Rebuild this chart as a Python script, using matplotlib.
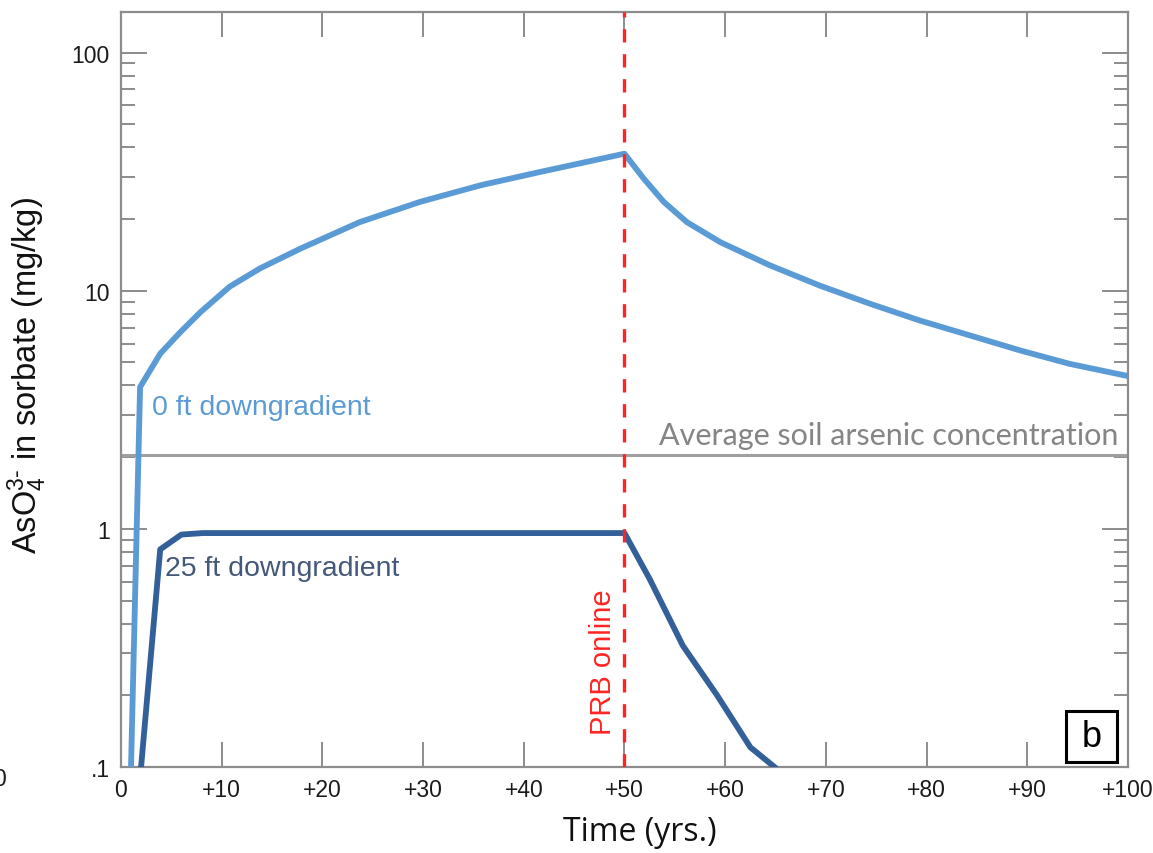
import matplotlib
matplotlib.use("Agg")
import matplotlib.pyplot as plt
from matplotlib.patches import Rectangle
from matplotlib.ticker import FixedLocator, LogLocator, NullFormatter

# ---- data -------------------------------------------------------------
years_0ft = [1.0, 1.9, 3.9, 5.9, 7.9, 10.8, 13.8, 17.8, 23.7, 29.7, 35.7, 41.6, 50.0,
             51.9, 53.9, 56.2, 59.5, 64.4, 69.4, 74.4, 79.3, 84.3, 89.3, 94.2, 100.0]
sorbed_0ft = [0.1, 3.94, 5.44, 6.70, 8.13, 10.4, 12.4, 15.0, 19.4, 23.6, 27.7, 31.5, 37.6,
              29.6, 23.6, 19.4, 16.0, 12.8, 10.5, 8.81, 7.50, 6.49, 5.61, 4.93, 4.38]

years_25ft = [2.0, 3.9, 6.0, 8.1, 20.0, 35.0, 50.0, 52.5, 55.8, 59.2, 62.5, 64.9]
sorbed_25ft = [0.1, 0.82, 0.946, 0.96, 0.96, 0.96, 0.96, 0.616, 0.323, 0.20, 0.121, 0.1]

avg_soil_arsenic = 2.05
prb_online_year = 50

x_ticks = [0, 10, 20, 30, 40, 50, 60, 70, 80, 90, 100]
x_tick_labels = ["0", "+10", "+20", "+30", "+40", "+50", "+60", "+70", "+80", "+90", "+100"]
y_ticks = [0.1, 1, 10, 100]
y_tick_labels = [".1", "1", "10", "100"]

# ---- styling ------------------------------------------------------------
LIGHT_BLUE = "#5B9BD5"
DARK_BLUE = "#34609A"
DARK_BLUE_TEXT = "#44587A"
AXIS_GRAY = "#8C8C8C"
ARIAL = ["Liberation Sans", "DejaVu Sans"]

plt.rcParams["mathtext.fontset"] = "custom"
plt.rcParams["mathtext.rm"] = "Liberation Sans"
plt.rcParams["mathtext.it"] = "Liberation Sans:italic"
plt.rcParams["mathtext.bf"] = "Liberation Sans:bold"

fig = plt.figure(figsize=(11.53, 8.54), dpi=100)
ax = fig.add_axes([0.1049, 0.1007, 0.8734, 0.8841])

ax.set_yscale("log")
ax.set_xlim(0, 100)
ax.set_ylim(0.1, 148)

ax.plot(years_0ft, sorbed_0ft, color=LIGHT_BLUE, lw=4.2, solid_joinstyle="round", zorder=4)
ax.plot(years_25ft, sorbed_25ft, color=DARK_BLUE, lw=4.2, solid_joinstyle="round", zorder=4)

ax.axhline(avg_soil_arsenic, color="#A0A0A0", lw=2.2, zorder=2)
ax.axvline(prb_online_year, color="#FF2424", lw=2.4, dashes=(4, 3.5), zorder=5)

# ---- annotations --------------------------------------------------------
ax.text(3.05, 3.04, "0 ft downgradient", color=LIGHT_BLUE, fontsize=20.5,
        family=ARIAL, va="baseline", ha="left")
ax.text(4.37, 0.641, "25 ft downgradient", color=DARK_BLUE_TEXT, fontsize=20.5,
        family=ARIAL, va="baseline", ha="left")
ax.text(99.0, 2.28, "Average soil arsenic concentration", color="#858585",
        fontsize=22, family=["Lato", "DejaVu Sans"], va="baseline", ha="right")
ax.text(47.9, 0.279, "PRB online", color="#FF2424", fontsize=21, family=ARIAL,
        rotation=90, va="center", ha="center")

ax.add_patch(Rectangle((0.9384, 0.0066), 0.0507, 0.0676, transform=ax.transAxes,
                       fill=False, edgecolor="black", lw=2.2, zorder=6))
ax.text(0.9638, 0.0404, "b", transform=ax.transAxes, fontsize=26, family=ARIAL,
        ha="center", va="center", zorder=7)

# ---- axes ---------------------------------------------------------------
for side in ax.spines.values():
    side.set_color(AXIS_GRAY)
    side.set_linewidth(1.6)

ax.xaxis.set_major_locator(FixedLocator(x_ticks))
ax.set_xticklabels(x_tick_labels)
ax.yaxis.set_major_locator(FixedLocator(y_ticks))
ax.set_yticklabels(y_tick_labels)
ax.yaxis.set_minor_locator(LogLocator(base=10, subs=range(2, 10)))
ax.yaxis.set_minor_formatter(NullFormatter())

ax.tick_params(axis="both", which="both", direction="in", color=AXIS_GRAY,
               top=True, right=True, labelcolor="#1A1A1A")
ax.tick_params(axis="x", which="major", length=18, width=1.4, pad=8, labelsize=16.5)
ax.tick_params(axis="y", which="major", length=19, width=1.4, pad=8, labelsize=16.5)
ax.tick_params(axis="y", which="minor", length=10, width=1.4)
for lbl in ax.get_xticklabels() + ax.get_yticklabels():
    lbl.set_family(ARIAL)

ax.set_xlabel("Time (yrs.)", fontsize=23, family=["Open Sans", "DejaVu Sans"], color="#111111")
ax.xaxis.set_label_coords(0.515, -0.063)
ax.set_ylabel(r"AsO$_4^{3\text{-}}$ in sorbate (mg/kg)", fontsize=23.5, family=ARIAL,
              color="#111111")
ax.yaxis.set_label_coords(-0.071, 0.52)

# partial tick label of the neighbouring panel at the left edge
fig.text(0.0, 1 - 780 / 854, "0", fontsize=16.5, family=ARIAL, color="#1A1A1A",
         ha="center", va="center")

fig.savefig("out.png", dpi=100)
